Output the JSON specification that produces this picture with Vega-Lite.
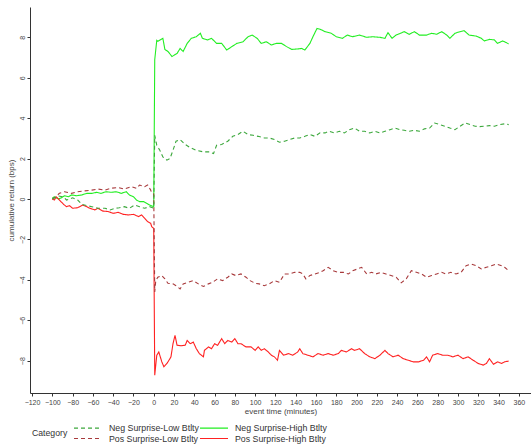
{
  "$schema": "https://vega.github.io/schema/vega-lite/v6.json",
  "width": 501,
  "height": 386,
  "autosize": {"type": "none"},
  "padding": {"left": 30, "top": 7, "right": 0, "bottom": 52},
  "background": "white",
  "config": {
    "font": "Liberation Sans",
    "view": {"stroke": null},
    "legend": {
      "orient": "none",
      "legendX": 2,
      "legendY": 416,
      "columns": 2,
      "padding": 0,
      "titleOrient": "left",
      "titleAngle": 0,
      "titleAnchor": "middle",
      "titleBaseline": "middle",
      "titlePadding": 15,
      "titleFontSize": 8.7,
      "titleFontWeight": "normal",
      "titleColor": "#333",
      "labelFontSize": 8.8,
      "labelColor": "#333",
      "symbolType": "M-3.5,0H3.5",
      "symbolSize": 64,
      "symbolStrokeWidth": 1.2,
      "labelOffset": 16,
      "columnPadding": -2,
      "rowPadding": 0.5
    }
  },
  "data": {
    "values": [
      {"c":"NH","t":-100,"r":0.05},{"c":"NH","t":-98,"r":0.11},{"c":"NH","t":-94,"r":0.0},{"c":"NH","t":-91,"r":0.06},{"c":"NH","t":-88,"r":0.16},{"c":"NH","t":-84,"r":0.11},{"c":"NH","t":-81,"r":0.2},{"c":"NH","t":-76,"r":0.16},{"c":"NH","t":-71,"r":0.2},{"c":"NH","t":-66,"r":0.28},{"c":"NH","t":-61,"r":0.28},{"c":"NH","t":-56,"r":0.33},{"c":"NH","t":-52,"r":0.28},{"c":"NH","t":-47,"r":0.36},{"c":"NH","t":-42,"r":0.33},{"c":"NH","t":-37,"r":0.36},{"c":"NH","t":-32,"r":0.28},{"c":"NH","t":-27,"r":0.36},{"c":"NH","t":-24,"r":0.2},{"c":"NH","t":-20,"r":0.11},{"c":"NH","t":-17,"r":-0.05},{"c":"NH","t":-14,"r":-0.13},{"c":"NH","t":-10,"r":-0.13},{"c":"NH","t":-7,"r":-0.21},{"c":"NH","t":-4,"r":-0.3},{"c":"NH","t":0,"r":-0.38},
      {"c":"NH","t":1,"r":6.9},{"c":"NH","t":3,"r":7.85},{"c":"NH","t":4,"r":7.8},{"c":"NH","t":9,"r":7.95},{"c":"NH","t":11,"r":7.4},{"c":"NH","t":14,"r":7.3},{"c":"NH","t":18,"r":7.05},{"c":"NH","t":23,"r":7.2},{"c":"NH","t":26,"r":7.45},{"c":"NH","t":29,"r":7.3},{"c":"NH","t":33,"r":7.7},{"c":"NH","t":37,"r":7.95},{"c":"NH","t":42,"r":8.03},{"c":"NH","t":46,"r":8.2},{"c":"NH","t":48,"r":7.95},{"c":"NH","t":53,"r":7.87},{"c":"NH","t":57,"r":7.95},{"c":"NH","t":62,"r":7.7},{"c":"NH","t":67,"r":7.7},{"c":"NH","t":72,"r":7.37},{"c":"NH","t":77,"r":7.54},{"c":"NH","t":82,"r":7.7},{"c":"NH","t":88,"r":7.78},{"c":"NH","t":93,"r":8.03},{"c":"NH","t":97,"r":8.11},{"c":"NH","t":102,"r":7.95},{"c":"NH","t":106,"r":7.7},{"c":"NH","t":111,"r":7.78},{"c":"NH","t":116,"r":7.62},{"c":"NH","t":121,"r":7.7},{"c":"NH","t":126,"r":7.7},{"c":"NH","t":131,"r":7.54},{"c":"NH","t":136,"r":7.4},{"c":"NH","t":141,"r":7.42},{"c":"NH","t":146,"r":7.45},{"c":"NH","t":149,"r":7.37},{"c":"NH","t":154,"r":7.7},{"c":"NH","t":157,"r":8.03},{"c":"NH","t":161,"r":8.44},{"c":"NH","t":164,"r":8.4},{"c":"NH","t":169,"r":8.28},{"c":"NH","t":175,"r":8.2},{"c":"NH","t":180,"r":8.03},{"c":"NH","t":186,"r":7.95},{"c":"NH","t":191,"r":8.11},{"c":"NH","t":196,"r":8.03},{"c":"NH","t":203,"r":8.11},{"c":"NH","t":210,"r":8.0},{"c":"NH","t":216,"r":8.03},{"c":"NH","t":223,"r":8.0},{"c":"NH","t":228,"r":7.95},{"c":"NH","t":231,"r":8.23},{"c":"NH","t":235,"r":7.95},{"c":"NH","t":239,"r":8.11},{"c":"NH","t":247,"r":8.28},{"c":"NH","t":252,"r":8.15},{"c":"NH","t":257,"r":8.28},{"c":"NH","t":262,"r":8.11},{"c":"NH","t":269,"r":8.11},{"c":"NH","t":274,"r":8.2},{"c":"NH","t":279,"r":8.15},{"c":"NH","t":284,"r":8.28},{"c":"NH","t":289,"r":8.11},{"c":"NH","t":292,"r":7.95},{"c":"NH","t":297,"r":8.2},{"c":"NH","t":302,"r":8.28},{"c":"NH","t":306,"r":8.33},{"c":"NH","t":311,"r":8.11},{"c":"NH","t":318,"r":8.06},{"c":"NH","t":323,"r":7.95},{"c":"NH","t":326,"r":7.82},{"c":"NH","t":331,"r":7.9},{"c":"NH","t":336,"r":7.87},{"c":"NH","t":339,"r":7.7},{"c":"NH","t":344,"r":7.82},{"c":"NH","t":348,"r":7.73},{"c":"NH","t":350,"r":7.67},

      {"c":"PH","t":-100,"r":0.0},{"c":"PH","t":-98,"r":-0.05},{"c":"PH","t":-96,"r":0.1},{"c":"PH","t":-93,"r":-0.05},{"c":"PH","t":-89,"r":-0.26},{"c":"PH","t":-86,"r":-0.38},{"c":"PH","t":-83,"r":-0.33},{"c":"PH","t":-80,"r":-0.46},{"c":"PH","t":-75,"r":-0.43},{"c":"PH","t":-70,"r":-0.3},{"c":"PH","t":-66,"r":-0.38},{"c":"PH","t":-63,"r":-0.46},{"c":"PH","t":-58,"r":-0.54},{"c":"PH","t":-55,"r":-0.46},{"c":"PH","t":-50,"r":-0.6},{"c":"PH","t":-45,"r":-0.62},{"c":"PH","t":-40,"r":-0.71},{"c":"PH","t":-35,"r":-0.66},{"c":"PH","t":-30,"r":-0.76},{"c":"PH","t":-25,"r":-0.79},{"c":"PH","t":-20,"r":-0.76},{"c":"PH","t":-15,"r":-0.87},{"c":"PH","t":-12,"r":-0.79},{"c":"PH","t":-9,"r":-0.95},{"c":"PH","t":-6,"r":-1.12},{"c":"PH","t":-3,"r":-1.2},{"c":"PH","t":-2,"r":-1.37},{"c":"PH","t":0,"r":-1.45},
      {"c":"PH","t":1,"r":-8.72},{"c":"PH","t":3,"r":-7.73},{"c":"PH","t":5,"r":-7.57},{"c":"PH","t":8,"r":-8.06},{"c":"PH","t":10,"r":-8.3},{"c":"PH","t":13,"r":-8.14},{"c":"PH","t":16,"r":-7.9},{"c":"PH","t":17,"r":-7.81},{"c":"PH","t":19,"r":-7.16},{"c":"PH","t":21,"r":-6.75},{"c":"PH","t":23,"r":-7.24},{"c":"PH","t":27,"r":-7.26},{"c":"PH","t":31,"r":-7.24},{"c":"PH","t":33,"r":-7.0},{"c":"PH","t":36,"r":-7.16},{"c":"PH","t":39,"r":-7.08},{"c":"PH","t":42,"r":-7.41},{"c":"PH","t":45,"r":-7.65},{"c":"PH","t":49,"r":-7.81},{"c":"PH","t":50,"r":-7.49},{"c":"PH","t":54,"r":-7.32},{"c":"PH","t":57,"r":-7.41},{"c":"PH","t":60,"r":-7.16},{"c":"PH","t":63,"r":-7.24},{"c":"PH","t":67,"r":-6.91},{"c":"PH","t":70,"r":-7.16},{"c":"PH","t":73,"r":-7.0},{"c":"PH","t":77,"r":-7.08},{"c":"PH","t":80,"r":-6.91},{"c":"PH","t":83,"r":-7.16},{"c":"PH","t":86,"r":-7.16},{"c":"PH","t":91,"r":-7.32},{"c":"PH","t":96,"r":-7.32},{"c":"PH","t":100,"r":-7.49},{"c":"PH","t":103,"r":-7.32},{"c":"PH","t":106,"r":-7.49},{"c":"PH","t":109,"r":-7.41},{"c":"PH","t":113,"r":-7.57},{"c":"PH","t":116,"r":-7.73},{"c":"PH","t":119,"r":-7.81},{"c":"PH","t":122,"r":-7.98},{"c":"PH","t":124,"r":-7.49},{"c":"PH","t":128,"r":-7.73},{"c":"PH","t":133,"r":-7.65},{"c":"PH","t":137,"r":-7.73},{"c":"PH","t":142,"r":-7.57},{"c":"PH","t":144,"r":-7.41},{"c":"PH","t":147,"r":-7.65},{"c":"PH","t":152,"r":-7.73},{"c":"PH","t":157,"r":-7.81},{"c":"PH","t":162,"r":-7.65},{"c":"PH","t":167,"r":-7.73},{"c":"PH","t":172,"r":-7.65},{"c":"PH","t":177,"r":-7.73},{"c":"PH","t":182,"r":-7.65},{"c":"PH","t":185,"r":-7.49},{"c":"PH","t":190,"r":-7.57},{"c":"PH","t":195,"r":-7.41},{"c":"PH","t":198,"r":-7.49},{"c":"PH","t":203,"r":-7.41},{"c":"PH","t":208,"r":-7.65},{"c":"PH","t":213,"r":-7.81},{"c":"PH","t":218,"r":-7.9},{"c":"PH","t":223,"r":-7.73},{"c":"PH","t":228,"r":-7.49},{"c":"PH","t":231,"r":-7.65},{"c":"PH","t":236,"r":-7.81},{"c":"PH","t":241,"r":-7.73},{"c":"PH","t":246,"r":-7.9},{"c":"PH","t":251,"r":-7.98},{"c":"PH","t":256,"r":-8.06},{"c":"PH","t":261,"r":-8.06},{"c":"PH","t":266,"r":-7.98},{"c":"PH","t":269,"r":-7.81},{"c":"PH","t":272,"r":-8.06},{"c":"PH","t":275,"r":-7.73},{"c":"PH","t":280,"r":-7.65},{"c":"PH","t":285,"r":-7.73},{"c":"PH","t":290,"r":-7.73},{"c":"PH","t":295,"r":-7.81},{"c":"PH","t":300,"r":-7.73},{"c":"PH","t":305,"r":-7.9},{"c":"PH","t":310,"r":-7.81},{"c":"PH","t":315,"r":-7.98},{"c":"PH","t":320,"r":-8.14},{"c":"PH","t":325,"r":-8.22},{"c":"PH","t":328,"r":-8.14},{"c":"PH","t":331,"r":-7.9},{"c":"PH","t":335,"r":-8.18},{"c":"PH","t":339,"r":-8.06},{"c":"PH","t":343,"r":-8.14},{"c":"PH","t":346,"r":-8.06},{"c":"PH","t":350,"r":-8.02},

      {"c":"PL","t":-100,"r":0.0},{"c":"PL","t":-97,"r":0.1},{"c":"PL","t":-93,"r":0.28},{"c":"PL","t":-88,"r":0.36},{"c":"PL","t":-81,"r":0.28},{"c":"PL","t":-75,"r":0.36},{"c":"PL","t":-68,"r":0.4},{"c":"PL","t":-61,"r":0.44},{"c":"PL","t":-55,"r":0.49},{"c":"PL","t":-48,"r":0.44},{"c":"PL","t":-42,"r":0.53},{"c":"PL","t":-35,"r":0.57},{"c":"PL","t":-29,"r":0.49},{"c":"PL","t":-22,"r":0.61},{"c":"PL","t":-17,"r":0.53},{"c":"PL","t":-14,"r":0.69},{"c":"PL","t":-9,"r":0.61},{"c":"PL","t":-6,"r":0.69},{"c":"PL","t":-3,"r":0.44},{"c":"PL","t":-2,"r":0.3},{"c":"PL","t":0,"r":0.25},
      {"c":"PL","t":1,"r":-4.6},{"c":"PL","t":2,"r":-4.04},{"c":"PL","t":4,"r":-3.87},{"c":"PL","t":8,"r":-3.79},{"c":"PL","t":11,"r":-3.95},{"c":"PL","t":14,"r":-4.17},{"c":"PL","t":19,"r":-4.2},{"c":"PL","t":22,"r":-4.29},{"c":"PL","t":26,"r":-4.45},{"c":"PL","t":29,"r":-4.2},{"c":"PL","t":34,"r":-4.12},{"c":"PL","t":39,"r":-4.04},{"c":"PL","t":44,"r":-4.2},{"c":"PL","t":49,"r":-4.33},{"c":"PL","t":54,"r":-4.2},{"c":"PL","t":58,"r":-4.12},{"c":"PL","t":63,"r":-3.95},{"c":"PL","t":68,"r":-4.04},{"c":"PL","t":73,"r":-3.87},{"c":"PL","t":77,"r":-3.71},{"c":"PL","t":81,"r":-3.79},{"c":"PL","t":86,"r":-3.71},{"c":"PL","t":91,"r":-3.87},{"c":"PL","t":95,"r":-4.04},{"c":"PL","t":100,"r":-4.17},{"c":"PL","t":104,"r":-4.2},{"c":"PL","t":109,"r":-4.29},{"c":"PL","t":114,"r":-4.2},{"c":"PL","t":119,"r":-4.04},{"c":"PL","t":124,"r":-4.12},{"c":"PL","t":129,"r":-3.71},{"c":"PL","t":134,"r":-3.71},{"c":"PL","t":139,"r":-3.63},{"c":"PL","t":144,"r":-3.63},{"c":"PL","t":147,"r":-3.71},{"c":"PL","t":150,"r":-3.95},{"c":"PL","t":154,"r":-3.79},{"c":"PL","t":159,"r":-3.71},{"c":"PL","t":164,"r":-3.63},{"c":"PL","t":167,"r":-3.55},{"c":"PL","t":172,"r":-3.38},{"c":"PL","t":177,"r":-3.55},{"c":"PL","t":182,"r":-3.63},{"c":"PL","t":187,"r":-3.63},{"c":"PL","t":192,"r":-3.71},{"c":"PL","t":196,"r":-3.55},{"c":"PL","t":201,"r":-3.46},{"c":"PL","t":205,"r":-3.38},{"c":"PL","t":210,"r":-3.71},{"c":"PL","t":215,"r":-3.63},{"c":"PL","t":219,"r":-3.71},{"c":"PL","t":224,"r":-3.63},{"c":"PL","t":229,"r":-3.71},{"c":"PL","t":234,"r":-3.79},{"c":"PL","t":239,"r":-3.87},{"c":"PL","t":244,"r":-4.15},{"c":"PL","t":249,"r":-3.95},{"c":"PL","t":254,"r":-3.55},{"c":"PL","t":259,"r":-3.63},{"c":"PL","t":264,"r":-3.71},{"c":"PL","t":269,"r":-3.87},{"c":"PL","t":274,"r":-3.79},{"c":"PL","t":279,"r":-3.71},{"c":"PL","t":284,"r":-3.63},{"c":"PL","t":288,"r":-3.71},{"c":"PL","t":293,"r":-3.63},{"c":"PL","t":298,"r":-3.71},{"c":"PL","t":303,"r":-3.63},{"c":"PL","t":308,"r":-3.3},{"c":"PL","t":313,"r":-3.22},{"c":"PL","t":318,"r":-3.3},{"c":"PL","t":323,"r":-3.46},{"c":"PL","t":328,"r":-3.38},{"c":"PL","t":333,"r":-3.3},{"c":"PL","t":338,"r":-3.22},{"c":"PL","t":343,"r":-3.3},{"c":"PL","t":346,"r":-3.38},{"c":"PL","t":350,"r":-3.55},

      {"c":"NL","t":-100,"r":0.0},{"c":"NL","t":-94,"r":0.15},{"c":"NL","t":-89,"r":0.1},{"c":"NL","t":-86,"r":-0.05},{"c":"NL","t":-83,"r":0.0},{"c":"NL","t":-80,"r":0.06},{"c":"NL","t":-75,"r":-0.05},{"c":"NL","t":-71,"r":-0.26},{"c":"NL","t":-66,"r":-0.33},{"c":"NL","t":-61,"r":-0.38},{"c":"NL","t":-55,"r":-0.46},{"c":"NL","t":-48,"r":-0.46},{"c":"NL","t":-43,"r":-0.54},{"c":"NL","t":-38,"r":-0.46},{"c":"NL","t":-34,"r":-0.43},{"c":"NL","t":-29,"r":-0.38},{"c":"NL","t":-24,"r":-0.46},{"c":"NL","t":-19,"r":-0.3},{"c":"NL","t":-14,"r":-0.38},{"c":"NL","t":-9,"r":-0.46},{"c":"NL","t":-4,"r":-0.38},{"c":"NL","t":0,"r":-0.46},
      {"c":"NL","t":1,"r":3.15},{"c":"NL","t":3,"r":2.66},{"c":"NL","t":6,"r":2.41},{"c":"NL","t":9,"r":2.08},{"c":"NL","t":13,"r":1.92},{"c":"NL","t":16,"r":2.0},{"c":"NL","t":19,"r":2.41},{"c":"NL","t":22,"r":2.86},{"c":"NL","t":26,"r":2.94},{"c":"NL","t":31,"r":2.7},{"c":"NL","t":36,"r":2.54},{"c":"NL","t":42,"r":2.41},{"c":"NL","t":49,"r":2.33},{"c":"NL","t":55,"r":2.33},{"c":"NL","t":59,"r":2.25},{"c":"NL","t":62,"r":2.66},{"c":"NL","t":67,"r":2.7},{"c":"NL","t":73,"r":2.86},{"c":"NL","t":78,"r":3.1},{"c":"NL","t":83,"r":3.19},{"c":"NL","t":88,"r":3.35},{"c":"NL","t":93,"r":3.19},{"c":"NL","t":98,"r":3.15},{"c":"NL","t":103,"r":3.1},{"c":"NL","t":109,"r":3.02},{"c":"NL","t":114,"r":3.02},{"c":"NL","t":119,"r":2.94},{"c":"NL","t":124,"r":2.81},{"c":"NL","t":129,"r":2.86},{"c":"NL","t":134,"r":2.94},{"c":"NL","t":139,"r":3.02},{"c":"NL","t":144,"r":3.02},{"c":"NL","t":149,"r":3.1},{"c":"NL","t":154,"r":3.19},{"c":"NL","t":159,"r":3.1},{"c":"NL","t":164,"r":3.27},{"c":"NL","t":169,"r":3.27},{"c":"NL","t":173,"r":3.35},{"c":"NL","t":178,"r":3.27},{"c":"NL","t":183,"r":3.35},{"c":"NL","t":188,"r":3.27},{"c":"NL","t":193,"r":3.43},{"c":"NL","t":198,"r":3.51},{"c":"NL","t":203,"r":3.35},{"c":"NL","t":208,"r":3.35},{"c":"NL","t":213,"r":3.27},{"c":"NL","t":218,"r":3.35},{"c":"NL","t":223,"r":3.27},{"c":"NL","t":228,"r":3.35},{"c":"NL","t":233,"r":3.43},{"c":"NL","t":238,"r":3.51},{"c":"NL","t":243,"r":3.43},{"c":"NL","t":247,"r":3.4},{"c":"NL","t":252,"r":3.35},{"c":"NL","t":257,"r":3.4},{"c":"NL","t":262,"r":3.35},{"c":"NL","t":267,"r":3.47},{"c":"NL","t":272,"r":3.51},{"c":"NL","t":277,"r":3.76},{"c":"NL","t":282,"r":3.68},{"c":"NL","t":287,"r":3.6},{"c":"NL","t":292,"r":3.51},{"c":"NL","t":297,"r":3.43},{"c":"NL","t":302,"r":3.6},{"c":"NL","t":307,"r":3.76},{"c":"NL","t":312,"r":3.68},{"c":"NL","t":317,"r":3.6},{"c":"NL","t":321,"r":3.58},{"c":"NL","t":326,"r":3.6},{"c":"NL","t":331,"r":3.63},{"c":"NL","t":336,"r":3.6},{"c":"NL","t":341,"r":3.68},{"c":"NL","t":346,"r":3.72},{"c":"NL","t":350,"r":3.68}
    ]
  },
  "mark": {"type": "line", "strokeWidth": 1.1},
  "encoding": {
    "x": {
      "field": "t",
      "type": "quantitative",
      "scale": {"domain": [-122, 372], "nice": false, "zero": false},
      "axis": {
        "values": [-120, -100, -80, -60, -40, -20, 0, 20, 40, 60, 80, 100, 120, 140, 160, 180, 200, 220, 240, 260, 280, 300, 320, 340, 360],
        "title": "event time (minutes)",
        "grid": false,
        "domainColor": "#333",
        "tickColor": "#333",
        "tickSize": 3,
        "labelFontSize": 7,
        "labelColor": "#444",
        "labelPadding": 2,
        "titleFontSize": 8,
        "titleFontWeight": "normal",
        "titleColor": "#444",
        "titlePadding": 2
      }
    },
    "y": {
      "field": "r",
      "type": "quantitative",
      "scale": {"domain": [-9.6, 9.5], "nice": false, "zero": false},
      "axis": {
        "values": [-8, -6, -4, -2, 0, 2, 4, 6, 8],
        "title": "cumulative return (bps)",
        "grid": false,
        "domainColor": "#333",
        "tickColor": "#333",
        "tickSize": 3,
        "labelAngle": 270,
        "labelAlign": "center",
        "labelBaseline": "bottom",
        "labelFontSize": 7,
        "labelColor": "#444",
        "labelPadding": 2,
        "titleFontSize": 8,
        "titleFontWeight": "normal",
        "titleColor": "#444",
        "titlePadding": 3
      }
    },
    "color": {
      "field": "c",
      "type": "nominal",
      "scale": {
        "domain": ["NL", "PL", "NH", "PH"],
        "range": ["#3da83d", "#a83a3c", "#22ee22", "#ff2222"]
      },
      "legend": {
        "title": "Category",
        "labelExpr": "{'NL': 'Neg Surprise-Low Btlty', 'NH': 'Neg Surprise-High Btlty', 'PL': 'Pos Surprise-Low Btlty', 'PH': 'Pos Surprise-High Btlty'}[datum.label]"
      }
    },
    "strokeDash": {
      "field": "c",
      "type": "nominal",
      "scale": {
        "domain": ["NL", "PL", "NH", "PH"],
        "range": [[4, 3], [4, 3], [1, 0], [1, 0]]
      },
      "legend": {
        "title": "Category",
        "labelExpr": "{'NL': 'Neg Surprise-Low Btlty', 'NH': 'Neg Surprise-High Btlty', 'PL': 'Pos Surprise-Low Btlty', 'PH': 'Pos Surprise-High Btlty'}[datum.label]"
      }
    }
  }
}
